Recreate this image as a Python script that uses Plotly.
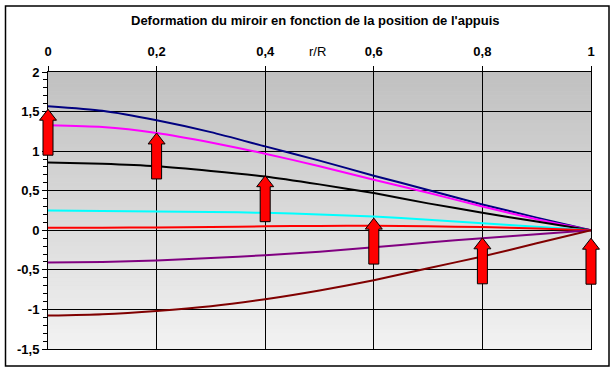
import plotly.graph_objects as go

# ---- data ----
r = [0.0, 0.1, 0.2, 0.3, 0.4, 0.5, 0.6, 0.7, 0.8, 0.9, 1.0]
s_navy = [1.567, 1.51, 1.39, 1.24, 1.06, 0.88, 0.69, 0.51, 0.327, 0.16, 0.0]
s_magenta = [1.327, 1.305, 1.23, 1.11, 0.968, 0.81, 0.639, 0.475, 0.30, 0.14, 0.0]
s_black = [0.858, 0.84, 0.808, 0.75, 0.68, 0.58, 0.47, 0.34, 0.222, 0.11, 0.0]
s_cyan = [0.25, 0.245, 0.238, 0.232, 0.22, 0.20, 0.175, 0.133, 0.09, 0.045, 0.0]
s_red = [0.032, 0.033, 0.035, 0.042, 0.05, 0.055, 0.057, 0.05, 0.04, 0.022, 0.0]
s_purple = [-0.407, -0.40, -0.382, -0.35, -0.315, -0.27, -0.215, -0.155, -0.10, -0.05, 0.0]
s_maroon = [-1.078, -1.06, -1.019, -0.96, -0.871, -0.76, -0.631, -0.48, -0.33, -0.165, 0.0]

series = [
    ("s1", s_navy, "#000080"),
    ("s2", s_magenta, "#ff00ff"),
    ("s3", s_black, "#000000"),
    ("s4", s_cyan, "#00ffff"),
    ("s5", s_red, "#ff0000"),
    ("s6", s_purple, "#800080"),
    ("s7", s_maroon, "#800000"),
]

# support positions (arrows) and the value their tip points at
arrow_x = [0.0, 0.2, 0.4, 0.6, 0.8, 1.0]
arrow_tip = [1.53, 1.23, 0.69, 0.154, -0.095, -0.10]

x_tick_vals = [0, 0.2, 0.4, 0.6, 0.8, 1]
x_tick_text = ["0", "0,2", "0,4", "0,6", "0,8", "1"]
y_tick_vals = [-1.5, -1, -0.5, 0, 0.5, 1, 1.5, 2]
y_tick_text = ["-1,5", "-1", "-0,5", "0", "0,5", "1", "1,5", "2"]

x_range = [0, 1]
y_range = [-1.5, 2]

title = "Deformation du miroir en fonction de la position de l'appuis"
x_title = "r/R"

FONT = "Arial, Liberation Sans, sans-serif"

fig = go.Figure()
for name, vals, col in series:
    fig.add_trace(go.Scatter(x=r, y=vals, mode="lines", name=name,
                             line=dict(color=col, width=2, shape="spline", smoothing=0.6),
                             showlegend=False, hoverinfo="skip"))

shapes = []
# vertical gradient background of the plot area
n_bands = 70
top_c, bot_c = 192, 242
for i in range(n_bands):
    f = (i + 0.5) / n_bands
    c = round(bot_c + (top_c - bot_c) * f)
    shapes.append(dict(type="rect", xref="paper", yref="paper",
                       x0=0, x1=1, y0=i / n_bands, y1=(i + 1) / n_bands + 0.002,
                       fillcolor=f"rgb({c},{c},{c})", line=dict(width=0), layer="below"))

# block arrows (drawn in paper coords so they are not clipped)
W_PLOT, H_PLOT = 543, 277
ysp = y_range[1] - y_range[0]
shaft_hw = 5 / W_PLOT
head_hw = 8.5 / W_PLOT
head_h = 11 / H_PLOT
length = 46 / H_PLOT
for ax, at in zip(arrow_x, arrow_tip):
    px = (ax - x_range[0]) / (x_range[1] - x_range[0])
    py = (at - y_range[0]) / ysp
    pts = [
        (px, py),
        (px + head_hw, py - head_h),
        (px + shaft_hw, py - head_h),
        (px + shaft_hw, py - length),
        (px - shaft_hw, py - length),
        (px - shaft_hw, py - head_h),
        (px - head_hw, py - head_h),
    ]
    path = "M " + " L ".join(f"{a:.5f},{b:.5f}" for a, b in pts) + " Z"
    shapes.append(dict(type="path", xref="paper", yref="paper", path=path,
                       fillcolor="#ff0000", line=dict(color="#000000", width=1), layer="above"))

# outer chart border
shapes.append(dict(type="rect", xref="paper", yref="paper",
                   x0=(5.5 - 48) / W_PLOT, x1=(609 - 48) / W_PLOT,
                   y0=(349 - 366) / H_PLOT, y1=(349 - 6) / H_PLOT,
                   line=dict(color="#000000", width=1.5), fillcolor="rgba(0,0,0,0)", layer="above"))

annotations = [
    dict(text=f"<b>{title}</b>", xref="paper", yref="paper",
         x=(315 - 48) / W_PLOT, y=(349 - 20.5) / H_PLOT, xanchor="center", yanchor="middle",
         showarrow=False, font=dict(family=FONT, size=13, color="#000000")),
    dict(text=x_title, xref="paper", yref="paper",
         x=(317.5 - 48) / W_PLOT, y=(349 - 51) / H_PLOT, xanchor="center", yanchor="middle",
         showarrow=False, font=dict(family=FONT, size=13, color="#000000")),
]

fig.update_layout(
    width=614, height=371,
    margin=dict(l=48, r=23, t=72, b=22),
    paper_bgcolor="#ffffff",
    plot_bgcolor="#d8d8d8",
    font=dict(family=FONT, size=13, color="#000000"),
    shapes=shapes,
    annotations=annotations,
    showlegend=False,
)
fig.update_xaxes(
    range=x_range, side="top", tickmode="array", tickvals=x_tick_vals, ticktext=x_tick_text,
    ticks="outside", ticklen=5, tickcolor="#000000", tickwidth=1,
    showline=True, linecolor="#000000", linewidth=1, mirror=True,
    showgrid=True, gridcolor="#000000", gridwidth=1, zeroline=False,
    tickfont=dict(family=FONT, size=13, color="#000000", weight="bold"),
    ticklabelstandoff=5,
)
fig.update_yaxes(
    range=y_range, tickmode="array", tickvals=y_tick_vals, ticktext=y_tick_text,
    ticks="outside", ticklen=5, tickcolor="#000000", tickwidth=1,
    minor=dict(tickmode="linear", tick0=0, dtick=0.1, ticks="outside", ticklen=4,
               tickcolor="#000000", showgrid=False),
    showline=True, linecolor="#000000", linewidth=1, mirror=True,
    showgrid=True, gridcolor="#000000", gridwidth=1, zeroline=False,
    tickfont=dict(family=FONT, size=13, color="#000000", weight="bold"),
)

fig.write_html("out.html")
